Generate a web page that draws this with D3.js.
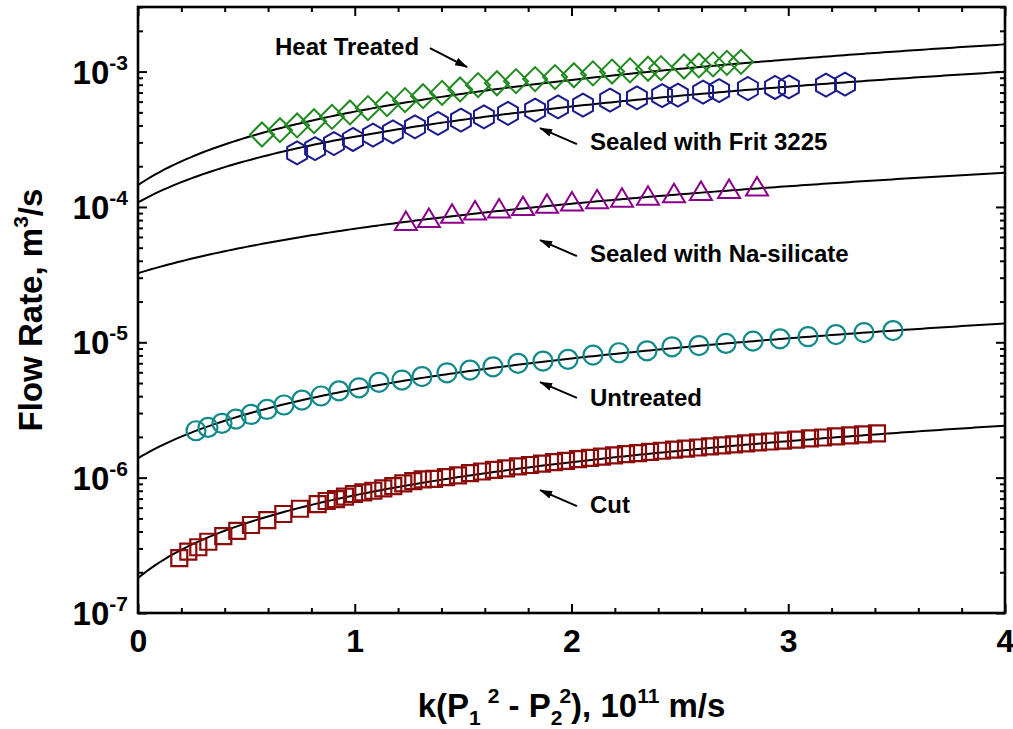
<!DOCTYPE html>
<html><head><meta charset="utf-8">
<script src="https://cdn.jsdelivr.net/npm/d3@7"></script>
<style>
body{margin:0;background:#fff;}
svg text{font-family:"Liberation Sans",Arial,Helvetica,sans-serif;font-weight:bold;fill:#000;}
</style>
</head><body>
<svg id="chart" width="1013" height="729"></svg>
<script>
// ---------- data ----------
const heatX = [0.572,0.655,0.734,0.812,0.895,0.978,1.061,1.149,1.232,1.315,1.403,1.486,1.569,1.656,1.744,1.832,1.924,2.011,2.099,2.187,2.270,2.353,2.413,2.519,2.588,2.653,2.717,2.782];
const heatY = [3.43e-4,3.69e-4,4.00e-4,4.30e-4,4.63e-4,4.99e-4,5.37e-4,5.75e-4,6.15e-4,6.58e-4,6.96e-4,7.38e-4,7.94e-4,8.2e-4,8.5e-4,8.8e-4,9.1e-4,9.4e-4,9.7e-4,1.0e-3,1.02e-3,1.05e-3,1.06e-3,1.09e-3,1.11e-3,1.13e-3,1.16e-3,1.18e-3];

const fritX = [0.734,0.817,0.904,0.992,1.084,1.176,1.278,1.384,1.490,1.596,1.707,1.832,1.938,2.053,2.178,2.302,2.418,2.491,2.607,2.681,2.814,2.939,3.003,3.174,3.262];
const fritY = [2.51e-4,2.70e-4,2.94e-4,3.15e-4,3.39e-4,3.59e-4,3.91e-4,4.14e-4,4.38e-4,4.63e-4,4.91e-4,5.19e-4,5.49e-4,5.65e-4,6.15e-4,6.40e-4,6.65e-4,6.70e-4,7.05e-4,7.23e-4,7.50e-4,7.63e-4,7.71e-4,7.94e-4,8.07e-4];

const naX = [1.236,1.342,1.449,1.555,1.666,1.776,1.887,2.002,2.118,2.233,2.353,2.473,2.597,2.727,2.856];
const naY = [7.6e-5,8.0e-5,8.6e-5,9.1e-5,9.4e-5,9.8e-5,1.02e-4,1.06e-4,1.10e-4,1.13e-4,1.17e-4,1.22e-4,1.27e-4,1.31e-4,1.37e-4];

const untreatedX = [0.2676,0.3230,0.3875,0.4521,0.5213,0.5952,0.6736,0.7566,0.8443,0.9273,1.0196,1.1119,1.2180,1.3103,1.4256,1.5317,1.6378,1.7532,1.8685,1.9839,2.0992,2.2191,2.3483,2.4637,2.5882,2.7128,2.8374,2.9619,3.0911,3.2203,3.3495,3.4833];
const untreatedY = [2.22e-6,2.35e-6,2.52e-6,2.71e-6,2.93e-6,3.19e-6,3.44e-6,3.74e-6,4.01e-6,4.38e-6,4.61e-6,5.06e-6,5.26e-6,5.58e-6,5.95e-6,6.23e-6,6.59e-6,6.99e-6,7.26e-6,7.48e-6,8.04e-6,8.37e-6,8.65e-6,9.26e-6,9.45e-6,9.81e-6,1.02e-5,1.06e-5,1.10e-5,1.14e-5,1.18e-5,1.22e-5];

const cutX = [0.1905,0.2321,0.2782,0.3243,0.3935,0.4581,0.5213,0.5965,0.6704,0.7474,0.8291,0.8706,0.9135,0.9550,0.9965,1.0394,1.0856,1.1317,1.1778,1.2240,1.2701,1.3135,
  1.3656,1.4210,1.4764,1.5317,1.5871,1.6424,1.6978,1.7532,1.8085,1.8639,1.9193,1.9746,2.0300,2.0854,2.1407,2.1961,2.2514,2.3068,2.3622,2.4175,2.4729,2.5283,2.5836,2.6390,2.6943,2.7497,2.8051,2.8604,2.9158,2.9758,3.0358,3.1003,3.1603,3.2203,3.2849,3.3449,3.4095];
const cutY = [2.54e-7,2.84e-7,3.06e-7,3.36e-7,3.70e-7,4.05e-7,4.47e-7,4.86e-7,5.39e-7,5.89e-7,6.38e-7,6.72e-7,6.95e-7,7.23e-7,7.57e-7,7.79e-7,8.00e-7,8.34e-7,8.67e-7,9.08e-7,9.44e-7,9.71e-7,
  9.8e-7,1.01e-6,1.04e-6,1.08e-6,1.11e-6,1.14e-6,1.17e-6,1.21e-6,1.24e-6,1.27e-6,1.30e-6,1.33e-6,1.37e-6,1.40e-6,1.43e-6,1.46e-6,1.49e-6,1.52e-6,1.55e-6,1.58e-6,1.61e-6,1.64e-6,1.67e-6,1.70e-6,1.73e-6,1.76e-6,1.79e-6,1.82e-6,1.85e-6,1.88e-6,1.91e-6,1.95e-6,1.98e-6,2.02e-6,2.05e-6,2.09e-6,2.12e-6];

// linear fits Q = a + b*x  (order: heat, frit, na, untreated, cut)
const fitIntercept = [1.45e-4,1.08e-4,3.24e-5,1.39e-6,1.81e-7];
const fitSlope     = [3.61e-4,2.22e-4,3.66e-5,3.10e-6,5.60e-7];

const seriesNames = ["Heat Treated","Sealed with Frit 3225","Sealed with Na-silicate","Untreated","Cut"];
const xTickValues = [0,1,2,3,4];
const yTickExponents = [-7,-6,-5,-4,-3];

// annotation anchors in data space
const annoTextX = [0.632,2.085,2.085,2.085,2.085];
const annoTextY = [1.32e-3,2.63e-4,3.91e-5,3.38e-6,5.48e-7];
const arrowFromX = [1.347,2.025,2.025,2.025,2.025];
const arrowFromY = [1.49e-3,2.91e-4,4.33e-5,3.88e-6,6.16e-7];
const arrowToX = [1.518,1.855,1.855,1.855,1.855];
const arrowToY = [1.08e-3,3.82e-4,5.69e-5,5.08e-6,8.09e-7];

// ---------- chart ----------
const svg = d3.select("#chart");
const L = 138, R = 1005, T = 7, B = 613;
const x = d3.scaleLinear().domain([0,4]).range([L,R]);
const y = d3.scaleLog().domain([1e-7,3e-3]).range([B,T]);

const xMinor = d3.range(0,4.0001,0.2).filter(v => Math.abs(v-Math.round(v))>1e-6);
const yMinor = [];
for (let e=-7;e<=-3;e++) for (let k=2;k<=9;k++){ const v=k*Math.pow(10,e); if (v<=3e-3) yMinor.push(v); }
const yMajor = yTickExponents.map(e=>Math.pow(10,e));

function styleAxis(g){ g.select(".domain").remove(); g.selectAll("line").attr("stroke","#000").attr("stroke-width",2); }

// bottom
svg.append("g").attr("transform",`translate(0,${B})`)
  .call(d3.axisBottom(x).tickValues(xTickValues).tickSize(-9).tickPadding(16).tickFormat(d3.format("d")))
  .call(styleAxis)
  .call(g=>g.selectAll("text").attr("font-size",32).style("font-family",'"Liberation Sans",Arial,sans-serif').style("font-weight","bold"));
svg.append("g").attr("transform",`translate(0,${B})`)
  .call(d3.axisBottom(x).tickValues(xMinor).tickSize(-5).tickFormat(""))
  .call(styleAxis);
// top
svg.append("g").attr("transform",`translate(0,${T})`)
  .call(d3.axisTop(x).tickValues(xTickValues).tickSize(-9).tickFormat(""))
  .call(styleAxis);
svg.append("g").attr("transform",`translate(0,${T})`)
  .call(d3.axisTop(x).tickValues(xMinor).tickSize(-5).tickFormat(""))
  .call(styleAxis);
// left
svg.append("g").attr("transform",`translate(${L},0)`)
  .call(d3.axisLeft(y).tickValues(yMajor).tickSize(-9).tickFormat(""))
  .call(styleAxis);
svg.append("g").attr("transform",`translate(${L},0)`)
  .call(d3.axisLeft(y).tickValues(yMinor).tickSize(-5).tickFormat(""))
  .call(styleAxis);
// right
svg.append("g").attr("transform",`translate(${R},0)`)
  .call(d3.axisRight(y).tickValues(yMajor).tickSize(-9).tickFormat(""))
  .call(styleAxis);
svg.append("g").attr("transform",`translate(${R},0)`)
  .call(d3.axisRight(y).tickValues(yMinor).tickSize(-5).tickFormat(""))
  .call(styleAxis);

// y tick labels with superscripts
const yl = svg.append("g").selectAll("text").data(yTickExponents).join("text")
  .attr("x", L-10).attr("y", d=>y(Math.pow(10,d))+12).attr("text-anchor","end").attr("font-size",33);
yl.append("tspan").text("10");
yl.append("tspan").attr("dy",-14).attr("font-size",21).text(d=>String(d));

// frame
svg.append("rect").attr("x",L).attr("y",T).attr("width",R-L).attr("height",B-T)
  .attr("fill","none").attr("stroke","#000").attr("stroke-width",2.6);

// fit curves
const xs = d3.range(0,4.0001,0.02);
const lineGen = d3.line().x(d=>x(d[0])).y(d=>y(d[1]));
fitIntercept.forEach((a,i)=>{
  const b = fitSlope[i];
  svg.append("path").datum(xs.map(v=>[v,a+b*v])).attr("d",lineGen)
    .attr("fill","none").attr("stroke","#000").attr("stroke-width",2);
});

// markers
const diamond = "M0,-12L12,0L0,12L-12,0Z";
const hexR = 11.5;
const hexagon = "M" + d3.range(6).map(k=>{const a=(-90+60*k)*Math.PI/180; return [hexR*Math.cos(a),hexR*Math.sin(a)].join(",");}).join("L")+"Z";
const triangle = "M0,-11.5L11,7L-11,7Z";
const square = "M-8,-8L8,-8L8,8L-8,8Z";

function drawPath(xsArr, ysArr, shape, color, sw){
  svg.append("g").selectAll("path").data(xsArr.map((v,i)=>[v,ysArr[i]])).join("path")
    .attr("d",shape).attr("transform",d=>`translate(${x(d[0])},${y(d[1])})`)
    .attr("fill","none").attr("stroke",color).attr("stroke-width",sw);
}
drawPath(heatX,heatY,diamond,"#1f8a1f",2);
drawPath(fritX,fritY,hexagon,"#1a1a8c",2);
drawPath(naX,naY,triangle,"#8a008a",2);
svg.append("g").selectAll("circle").data(untreatedX.map((v,i)=>[v,untreatedY[i]])).join("circle")
  .attr("cx",d=>x(d[0])).attr("cy",d=>y(d[1])).attr("r",9.5)
  .attr("fill","none").attr("stroke","#138a8a").attr("stroke-width",2.2);
drawPath(cutX,cutY,square,"#8b0a0a",2.2);

// annotations
const defs = svg.append("defs");
defs.append("marker").attr("id","ah").attr("viewBox","0 0 13 8").attr("refX",12).attr("refY",4)
  .attr("markerWidth",13).attr("markerHeight",8).attr("markerUnits","userSpaceOnUse").attr("orient","auto")
  .append("path").attr("d","M0,0L13,4L0,8Z").attr("fill","#000");

seriesNames.forEach((name,i)=>{
  svg.append("text").attr("x",x(annoTextX[i])).attr("y",y(annoTextY[i])).attr("font-size",24).text(name);
  svg.append("line").attr("x1",x(arrowFromX[i])).attr("y1",y(arrowFromY[i]))
    .attr("x2",x(arrowToX[i])).attr("y2",y(arrowToY[i]))
    .attr("stroke","#000").attr("stroke-width",2).attr("marker-end","url(#ah)");
});

// axis titles
const xt = svg.append("text").attr("x",(L+R)/2).attr("y",717).attr("text-anchor","middle").attr("font-size",33);
xt.append("tspan").text("k(P");
xt.append("tspan").attr("font-size",21).attr("dy",8).text("1");
xt.append("tspan").attr("font-size",21).attr("dy",-22).attr("dx",7).text("2");
xt.append("tspan").attr("dy",14).text(" - P");
xt.append("tspan").attr("font-size",21).attr("dy",8).text("2");
xt.append("tspan").attr("font-size",21).attr("dy",-22).attr("dx",-3).text("2");
xt.append("tspan").attr("dy",14).text("), 10");
xt.append("tspan").attr("font-size",21).attr("dy",-14).text("11");
xt.append("tspan").attr("dy",14).text(" m/s");

const yt = svg.append("text").attr("transform","translate(42,310) rotate(-90)").attr("text-anchor","middle").attr("font-size",33);
yt.append("tspan").text("Flow Rate, m");
yt.append("tspan").attr("font-size",21).attr("dy",-14).text("3");
yt.append("tspan").attr("dy",14).text("/s");
</script>
</body></html>
